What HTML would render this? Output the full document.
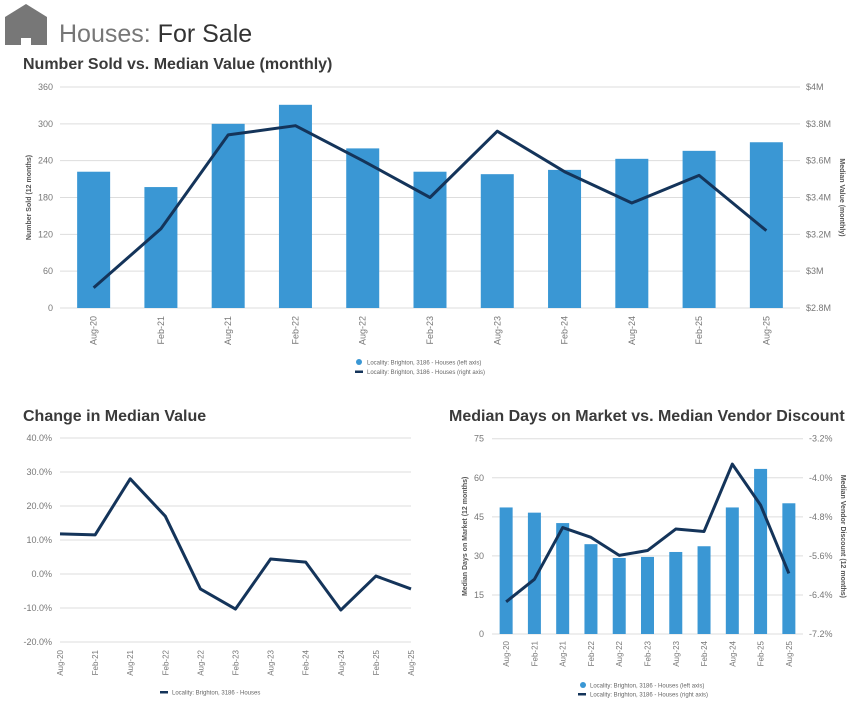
<!DOCTYPE html>
<html><head><meta charset="utf-8"><style>
body{margin:0;background:#fff;}
svg{display:block;font-family:"Liberation Sans",sans-serif;}
</style></head><body>
<svg id="s" width="855" height="706" viewBox="0 0 855 706" xmlns="http://www.w3.org/2000/svg">
<g><path d="M5 17 L26 4 L47 17 L47 45 L31 45 L31 38 L21 38 L21 45 L5 45 Z" fill="#777"/></g>
<text x="59" y="42" font-size="25" fill="#777">Houses: <tspan fill="#333">For Sale</tspan></text>
<text x="23" y="69" font-size="16" font-weight="bold" fill="#3a3a3a">Number Sold vs. Median Value (monthly)</text>
<text x="23" y="421" font-size="16" font-weight="bold" fill="#3a3a3a">Change in Median Value</text>
<text x="449" y="421" font-size="16" font-weight="bold" fill="#3a3a3a">Median Days on Market vs. Median Vendor Discount</text>
<g id="c1"></g><g id="c2"></g><g id="c3"></g>
</svg>
<script>
const cats = ["Aug-20","Feb-21","Aug-21","Feb-22","Aug-22","Feb-23","Aug-23","Feb-24","Aug-24","Feb-25","Aug-25"];
const soldValues = [222,197,300,331,260,222,218,225,243,256,270];
const medianValues = [2.91,3.23,3.74,3.79,3.60,3.40,3.76,3.54,3.37,3.52,3.22];
const leftTicks1 = [0,60,120,180,240,300,360];
const rightTicks1 = ["$2.8M","$3M","$3.2M","$3.4M","$3.6M","$3.8M","$4M"];
const changeValues = [11.8,11.5,28,17,-4.4,-10.3,4.4,3.5,-10.6,-0.6,-4.4];
const changeTicks = [-20,-10,0,10,20,30,40];
const domValues = [48.6,46.6,42.6,34.5,29.2,29.6,31.5,33.7,48.6,63.4,50.2];
const discountValues = [-6.54,-6.08,-5.02,-5.22,-5.59,-5.49,-5.05,-5.10,-3.72,-4.56,-5.96];
const domTicks = [0,15,30,45,60,75];
const discTicks = [-7.2,-6.4,-5.6,-4.8,-4.0,-3.2];

const NS="http://www.w3.org/2000/svg";
function mk(p,tag,a,txt){const e=document.createElementNS(NS,tag);for(const k in a)e.setAttribute(k,a[k]);if(txt!==undefined)e.textContent=txt;p.appendChild(e);return e;}
const BLUE="#3a97d4",NAVY="#14345a";

// Chart 1
(function(){
const g=document.getElementById('c1');
const L=60,R=800,T=87,B=308;
const y=v=>B-(v-0)/360*(B-T);
const yr=v=>B-(v-2.8)/1.2*(B-T);
const step=(R-L)/cats.length;
const x=i=>L+step*(i+0.5);
leftTicks1.forEach((t,i)=>{
 const gl=mk(g,'line',{x1:L,x2:R,y1:y(t),y2:y(t),stroke:'#ddd'});
 
 
 const tl=mk(g,'text',{x:L-7,y:y(t)+3,'text-anchor':'end','font-size':9,fill:'#777'},t);
 
 
 const tr=mk(g,'text',{x:R+6,y:y(t)+3,'font-size':9,fill:'#777'},rightTicks1[i]);
 
 
});
soldValues.forEach((v,i)=>{
 const b=mk(g,'rect',{x:x(i)-16.5,y:y(v),width:33,height:B-y(v),fill:BLUE});
 
 
 const t=mk(g,'text',{transform:`translate(${x(i)+3},${B+8}) rotate(-90)`,'text-anchor':'end','font-size':9,fill:'#777'},cats[i]);
 
 
});
const ln=mk(g,'polyline',{points:medianValues.map((v,i)=>x(i)+','+yr(v)).join(' '),fill:'none',stroke:NAVY,'stroke-width':3,'stroke-linejoin':'round'});


const a1=mk(g,'text',{transform:`translate(31,${(T+B)/2}) rotate(-90)`,'text-anchor':'middle','font-size':7,'font-weight':'bold',fill:'#555'},'Number Sold (12 months)');


const a2=mk(g,'text',{transform:`translate(840,${(T+B)/2}) rotate(90)`,'text-anchor':'middle','font-size':7,'font-weight':'bold',fill:'#555'},'Median Value (monthly)');


const lg=mk(g,'g',{});


mk(lg,'circle',{cx:359,cy:362,r:3,fill:BLUE});
mk(lg,'text',{x:367,y:364.5,'font-size':6,fill:'#666'},'Locality: Brighton, 3186 - Houses (left axis)');
mk(lg,'rect',{x:355,y:370.5,width:8,height:2.5,fill:NAVY});
mk(lg,'text',{x:367,y:374,'font-size':6,fill:'#666'},'Locality: Brighton, 3186 - Houses (right axis)');
})();

// Chart 2
(function(){
const g=document.getElementById('c2');
const L=60,R=411,T=438,B=642;
const y=v=>B-(v+20)/60*(B-T);
const step=(R-L)/(cats.length-1);
const x=i=>L+step*i;
changeTicks.forEach(t=>{
 const gl=mk(g,'line',{x1:L,x2:R,y1:y(t),y2:y(t),stroke:'#ddd'});
 
 
 const tl=mk(g,'text',{x:L-8,y:y(t)+3,'text-anchor':'end','font-size':9,fill:'#777'},t.toFixed(1)+'%');
 
 
});
cats.forEach((c,i)=>{
 const t=mk(g,'text',{transform:`translate(${x(i)+3},${B+8}) rotate(-90)`,'text-anchor':'end','font-size':8,fill:'#777'},c);
 
 
});
const ln=mk(g,'polyline',{points:changeValues.map((v,i)=>x(i)+','+y(v)).join(' '),fill:'none',stroke:NAVY,'stroke-width':3,'stroke-linejoin':'round'});


const lg=mk(g,'g',{});


mk(lg,'rect',{x:160,y:691,width:8,height:2.5,fill:NAVY});
mk(lg,'text',{x:172,y:694.5,'font-size':6,fill:'#666'},'Locality: Brighton, 3186 - Houses');
})();

// Chart 3
(function(){
const g=document.getElementById('c3');
const L=492,R=803,T=438.7,B=634;
const y=v=>B-v/75*(B-T);
const yr=v=>B-(v+7.2)/4*(B-T);
const step=(R-L)/cats.length;
const x=i=>L+step*(i+0.5);
domTicks.forEach((t,i)=>{
 const gl=mk(g,'line',{x1:L,x2:R,y1:y(t),y2:y(t),stroke:'#ddd'});
 
 
 const tl=mk(g,'text',{x:L-8,y:y(t)+3,'text-anchor':'end','font-size':9,fill:'#777'},t);
 
 
 const tr=mk(g,'text',{x:R+6,y:y(t)+3,'font-size':9,fill:'#777'},discTicks[i].toFixed(1)+'%');
 
 
});
domValues.forEach((v,i)=>{
 const b=mk(g,'rect',{x:x(i)-6.5,y:y(v),width:13,height:B-y(v),fill:BLUE});
 
 
 const t=mk(g,'text',{transform:`translate(${x(i)+3},${B+7}) rotate(-90)`,'text-anchor':'end','font-size':8,fill:'#777'},cats[i]);
 
 
});
const ln=mk(g,'polyline',{points:discountValues.map((v,i)=>x(i)+','+yr(v)).join(' '),fill:'none',stroke:NAVY,'stroke-width':3,'stroke-linejoin':'round'});


const a1=mk(g,'text',{transform:`translate(467,${(T+B)/2}) rotate(-90)`,'text-anchor':'middle','font-size':7,'font-weight':'bold',fill:'#555'},'Median Days on Market (12 months)');


const a2=mk(g,'text',{transform:`translate(841,${(T+B)/2}) rotate(90)`,'text-anchor':'middle','font-size':7,'font-weight':'bold',fill:'#555'},'Median Vendor Discount (12 months)');


const lg=mk(g,'g',{});


mk(lg,'circle',{cx:583,cy:685,r:3,fill:BLUE});
mk(lg,'text',{x:590,y:687.5,'font-size':6,fill:'#666'},'Locality: Brighton, 3186 - Houses (left axis)');
mk(lg,'rect',{x:578,y:693,width:8,height:2.5,fill:NAVY});
mk(lg,'text',{x:590,y:696.5,'font-size':6,fill:'#666'},'Locality: Brighton, 3186 - Houses (right axis)');
})();
</script>
</body></html>
